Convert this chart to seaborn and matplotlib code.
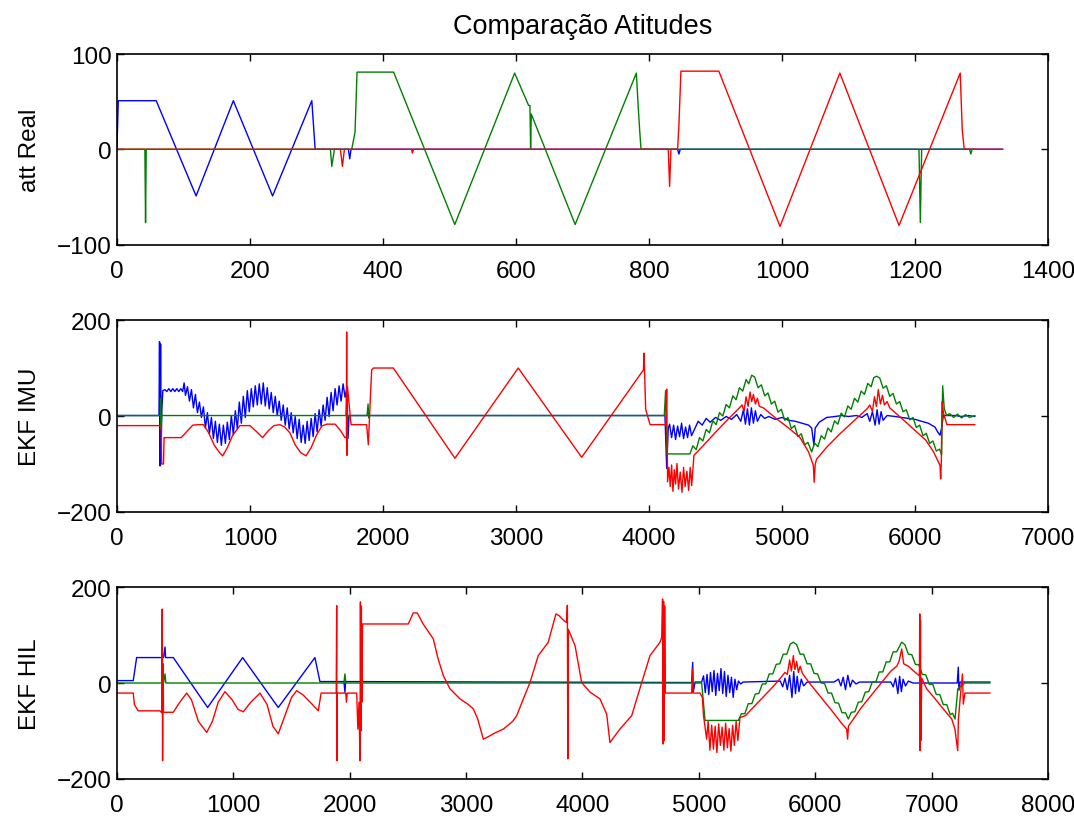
import matplotlib
matplotlib.use('Agg')
import matplotlib.pyplot as plt
import seaborn as sns

# ---------------- att Real (top panel) ----------------
real_blue_t = [0, 2, 59, 119, 175, 234, 293, 298, 348, 350, 352, 843, 845, 847, 1332]
real_blue_v = [0, 51, 51, -49, 51, -49, 51, 0, 0, -10, 0, 0, -5, 0, 0]

real_green_t = [0, 42, 43, 44, 321, 323, 327, 353, 358, 361, 416, 508, 598, 619, 621, 622, 623,
                689, 781, 784, 786, 788, 1206, 1208, 1210, 1282, 1284, 1286, 1290]
real_green_v = [0, 0, -77, 0, 0, -18, 0, 0, 18, 81, 81, -79, 80, 46, 46, 0, 37,
                -79, 80, 42, 20, 0, 0, -77, 0, 0, -5, 0, 0]

real_red_t = [0, 336, 339, 342, 443, 444, 446, 829, 831, 833, 843, 845, 848, 905, 997, 1087,
              1176, 1268, 1271, 1274, 1332]
real_red_v = [0, 0, -18, 0, 0, -4, 0, 0, -39, 0, 0, 25, 82, 82, -81, 80,
              -80, 80, 21, 0, 0]

# ---------------- EKF IMU (middle panel) ----------------
imu_blue_t = [0, 316, 320, 324, 328, 332, 338, 345,
              361, 375, 390, 405, 420, 435, 450, 465, 480, 494, 505, 515, 530, 545, 560, 575, 590, 605,
              620, 635, 650, 665, 680, 695, 710, 725, 740, 755, 770, 785, 800, 815, 830, 845, 860, 875,
              890, 905, 920, 935, 950, 965, 980, 995, 1010, 1025, 1040, 1055, 1070, 1085, 1100, 1115,
              1130, 1145, 1160, 1175, 1190, 1205, 1220, 1235, 1250, 1265, 1280, 1295, 1310, 1325, 1340,
              1355, 1370, 1385, 1400, 1415, 1430, 1445, 1460, 1475, 1490, 1505, 1520, 1535, 1550, 1565,
              1580, 1595, 1610, 1625, 1640, 1655, 1670, 1685, 1700, 1715, 1730, 1737, 1745,
              4120, 4133, 4145, 4155, 4170, 4185, 4200, 4215, 4230, 4245, 4260, 4275, 4290, 4305, 4320,
              4340, 4370, 4400, 4430, 4460, 4500, 4540, 4580, 4620, 4660, 4690, 4710, 4725, 4740, 4755,
              4770, 4785, 4800, 4815, 4840, 4870, 4900, 4950, 5000, 5050, 5100, 5150, 5200, 5223, 5240,
              5250, 5280, 5336, 5400, 5450, 5500, 5560, 5600, 5640, 5660, 5680, 5700, 5715, 5730, 5745,
              5760, 5790, 5850, 5900, 5950, 6000, 6050, 6100, 6150, 6170, 6188, 6200, 6213, 6300, 6350,
              6400, 6451]
imu_blue_v = [1, 1, 155, -104, 150, -66, 15, 53,
              55, 51, 57, 51, 57, 51, 57, 51, 57, 51, 69, 43, 61, 31, 55, 17, 45, 7,
              29, -3, 19, -25, 7, -37, -3, -47, -11, -55, -17, -61, -19, -57, -13, -49, 1, -39,
              11, -27, 29, -15, 41, -3, 53, 9, 57, 19, 63, 23, 67, 25, 69, 21,
              59, 15, 49, 7, 41, 1, 31, -9, 23, -19, 17, -27, 7, -35, -1,
              -47, -7, -55, -19, -57, -11, -51, -5, -43, 5, -33, 13, -21, 23, -9,
              39, -1, 49, 11, 57, 23, 63, 31, 67, 39, 61, -47, 1,
              1, -109, -25, -17, -45, -19, -49, -21, -43, -15, -47, -23, -45, -19, -41,
              -29, -11, -19, -5, -13, -3, -9, -1, -7, 3, -11, 13, -17, 15, -19,
              17, -15, 11, -11, 3, -5, -1, -7, -3, -9, -11, -15, -19, -25, -61,
              -25, -13, -3, -1, 1, -1, 1, -3, 5, -11, 9, -19, 13, -17, 9,
              -9, 1, -1, -3, -5, -7, -11, -15, -23, -33, -40, -25, 1, 1, -1,
              1, -1]

imu_green_t = [0, 326, 328, 331, 336, 345, 1722, 1727, 1732, 1740, 1880, 1888, 1893, 1900,
               4115, 4125, 4135, 4308,
               4330, 4355, 4380, 4405, 4430, 4455, 4480, 4505, 4530, 4555, 4580, 4605, 4630, 4655,
               4680, 4705, 4730, 4750, 4772,
               4795, 4820, 4845, 4870, 4895, 4920, 4945, 4970, 4995, 5020, 5045, 5070, 5095, 5120,
               5145, 5170, 5195, 5223,
               5245, 5270, 5295, 5320, 5345, 5370, 5395, 5420, 5445, 5470, 5495, 5520, 5545, 5570,
               5595, 5620, 5645, 5670, 5690, 5712,
               5735, 5760, 5785, 5810, 5835, 5860, 5885, 5910, 5935, 5960, 5985, 6010, 6035, 6060,
               6085, 6110, 6135, 6160, 6185, 6200,
               6208, 6220, 6238, 6260, 6290, 6320, 6350, 6380, 6410, 6451]
imu_green_v = [1, 1, 36, -27, 3, 1, 1, 50, -6, 1, 1, 25, -4, 1,
               1, 53, -79, -79,
               -62, -70, -45, -52, -28, -35, -10, -18, 7, 0, 24, 17, 42, 34,
               59, 52, 76, 67, 85,
               81, 59, 65, 42, 48, 25, 31, 8, 14, -9, -3, -26, -20, -43,
               -37, -60, -55, -75,
               -56, -64, -41, -48, -25, -33, -10, -17, 6, -2, 21, 14, 37, 29,
               52, 45, 68, 61, 80, 83,
               79, 58, 63, 41, 47, 25, 30, 9, 13, -8, -3, -24, -19, -41,
               -36, -57, -52, -73, -69, -81,
               63, 15, 1, 5, -3, 4, -4, 3, -3, 1]

imu_red_t = [0, 333, 336, 350, 354, 361, 482, 500, 540, 570, 612, 650, 690, 730, 770, 795, 830,
             870, 925, 1000, 1040, 1095, 1140, 1180, 1226, 1260, 1300, 1340, 1380, 1421, 1460, 1500,
             1540, 1576, 1641, 1680, 1714, 1725, 1727, 1729, 1733, 1745, 1760, 1877, 1890, 1905,
             1915, 1928, 2078, 2541, 3017, 3494, 3958, 3963, 3975, 4008, 4128, 4133, 4140,
             4150, 4160, 4170, 4180, 4190, 4200, 4210, 4222, 4235, 4248, 4260, 4272, 4285, 4298,
             4310, 4321, 4338, 4400, 4500, 4600, 4680, 4700, 4715, 4730, 4745, 4760, 4772, 4785,
             4800, 4815, 4830, 4860, 4960, 5050, 5136, 5200, 5236, 5242, 5250, 5260, 5336, 5436,
             5560, 5640, 5660, 5680, 5695, 5710, 5724, 5740, 5755, 5770, 5790, 5810, 5900, 6000,
             6080, 6140, 6188, 6193, 6198, 6203, 6215, 6240, 6451]
imu_red_v = [-20, -20, -100, -100, -45, -45, -45, -40, -28, -19, -18, -18, -35, -60, -76, -83, -66,
             -40, -20, -20, -30, -45, -30, -20, -18, -23, -35, -60, -76, -83, -66, -40,
             -21, -17, -17, -30, -45, -45, 175, -82, 61, 26, -18, -18, -60, 36,
             96, 100, 100, -88, 100, -86, 96, 131, 14, -18, -18, 56, -137,
             -107, -147, -102, -157, -112, -142, -99, -152, -117, -159, -107, -147, -115, -155,
             -107, -145, -82, -64, -34, -5, 17, 23, 10, 40, 20, 50, 30, 45,
             25, 37, 20, 17, -6, -25, -45, -75, -103, -138, -100, -90, -65, -37,
             -5, 15, 23, 10, 40, 20, 55, 25, 43, 23, 30, 17, -5, -30,
             -50, -75, -103, -131, -95, 30, 5, -18, -18]

# ---------------- EKF HIL (bottom panel) ----------------
hil_blue_t = [0, 140, 169, 400, 413, 418, 484, 779, 1080, 1386, 1701, 1744, 1950, 1959, 1965,
              4938, 4947, 4952, 4967, 5024,
              5040, 5055, 5070, 5085, 5100, 5115, 5130, 5145, 5160, 5175, 5190, 5205, 5220, 5235,
              5250, 5265, 5280, 5295, 5310, 5325, 5340, 5360, 5380,
              5700, 5720, 5740, 5760, 5780, 5800, 5815, 5830, 5845, 5860, 5880, 5900, 5930,
              6160, 6200, 6220, 6240, 6260, 6280, 6300, 6320, 6350, 6380,
              6650, 6670, 6690, 6710, 6725, 6740, 6755, 6775, 6800, 6840,
              7220, 7229, 7235, 7245, 7502]
hil_blue_v = [5, 5, 53, 53, 75, 53, 53, -51, 53, -51, 53, 3, 3, -19, 3,
              1, 43, -19, 2, 2,
              15, -20, 18, -24, 22, -18, 26, -26, 20, -16, 30, -22, 24, -28,
              16, -20, 12, -30, 8, -14, 4, -2, 2,
              4, -8, 10, -14, 16, -30, 24, -22, 14, -18, 8, -6, 2,
              2, 8, -6, 12, -14, 16, -8, 6, -2, 2,
              2, -8, 10, -22, 14, -18, 8, -6, 4, 0,
              0, 33, -15, 2, 2]

hil_green_t = [0, 400, 413, 420, 1950, 1959, 1966, 5024, 5053, 5339,
               5365, 5395, 5425, 5455, 5485, 5515, 5545, 5575, 5605, 5635, 5665, 5695, 5725, 5755,
               5785, 5812,
               5840, 5870, 5900, 5930, 5960, 5990, 6020, 6050, 6080, 6110, 6140, 6170, 6200, 6230,
               6260, 6284,
               6310, 6340, 6370, 6400, 6430, 6460, 6490, 6520, 6550, 6580, 6610, 6640, 6670, 6700,
               6742,
               6770, 6800, 6830, 6860, 6890, 6920, 6950, 6980, 7010, 7040, 7070, 7100, 7130, 7160,
               7180, 7201, 7225, 7286, 7502]
hil_green_v = [0, 0, 19, 0, 0, 19, 0, 0, -78, -78,
               -64, -64, -43, -43, -23, -22, -2, -2, 19, 19, 39, 40, 60, 60,
               81, 85,
               80, 60, 60, 40, 40, 20, 19, 0, -1, -21, -21, -41, -42, -62,
               -62, -75,
               -61, -60, -40, -39, -19, -18, 2, 2, 23, 23, 44, 44, 65, 65,
               85,
               80, 60, 59, 39, 38, 18, 17, -3, -3, -24, -24, -45, -45, -66,
               -63, -75, -12, 0, 0]

hil_red_t = [0, 140, 150, 183, 369, 385, 389, 392, 396, 400, 484, 540, 599, 640, 700, 771, 820,
             870, 928, 990, 1040, 1085, 1150, 1229, 1290, 1340, 1386, 1440, 1500, 1544, 1600, 1680,
             1730, 1754, 1884, 1888, 1890, 1893, 1966, 1972, 1978, 2060, 2070, 2080, 2088, 2092,
             2096, 2100, 2104, 2110, 2503, 2546, 2580, 2631, 2718, 2760, 2805, 2861, 2947, 3020,
             3062, 3100, 3148, 3190, 3240, 3320, 3400, 3435, 3492, 3549, 3620, 3706, 3772, 3800,
             3840, 3864, 3870, 3874, 3878, 3936, 3993, 4065, 4150, 4208, 4236, 4322, 4423, 4509,
             4580, 4666, 4681, 4688, 4692, 4697, 4702, 4706, 4712, 4938, 4945, 4950, 5010, 5030,
             5040, 5067, 5080, 5095, 5110, 5125, 5140, 5155, 5170, 5185, 5200, 5215, 5230, 5245,
             5260, 5275, 5290, 5305, 5320, 5335, 5353, 5400, 5510, 5640, 5700, 5740, 5760, 5780,
             5795, 5812, 5825, 5840, 5855, 5870, 5890, 5950, 6050, 6150, 6230, 6270, 6278, 6285,
             6400, 6550, 6650, 6700, 6720, 6743, 6760, 6800, 6860, 6895, 6898, 6901, 6904, 6907,
             6915, 6957, 7030, 7100, 7173, 7200, 7224, 7230, 7255, 7265, 7272, 7286, 7502]
hil_red_v = [-21, -21, -45, -58, -58, -62, 154, -162, 40, -61, -61, -40, -21, -35, -80, -103, -80,
             -40, -18, -35, -55, -60, -40, -21, -45, -90, -106, -70, -30, -16, -25, -45,
             -58, -21, -21, 161, -162, -21, -21, -40, -21, -21, -96, -40, -162, 169,
             -100, 160, -40, 123, 123, 146, 146, 123, 92, 50, 15, -12, -33, -45,
             -54, -75, -117, -112, -105, -96, -80, -68, -33, 1, 57, 85, 144, 140,
             130, 126, 162, -158, 112, 78, 1, -19, -33, -65, -124, -96, -68, 1,
             57, 85, 95, 175, -127, 170, -120, 160, -21, -21, 29, -21, -21, -30,
             -68, -117, -80, -140, -88, -138, -90, -145, -85, -130, -92, -140, -84, -135,
             -95, -142, -88, -130, -80, -120, -72, -68, -40, -7, 10, 22, 18, 48,
             25, 57, 28, 45, 22, 35, 20, 0, -30, -60, -85, -96, -117, -90,
             -50, -5, 25, 35, 45, 71, 40, 35, 22, 15, 144, -141, 130, -120,
             10, -12, -33, -54, -75, -96, -141, -75, -5, 19, -44, -21, -21]

panels = [
    ('att Real', (0, 1400), range(0, 1401, 200), (-100, 100), [-100, 0, 100],
     [(real_blue_t, real_blue_v), (real_green_t, real_green_v), (real_red_t, real_red_v)]),
    ('EKF IMU', (0, 7000), range(0, 7001, 1000), (-200, 200), [-200, 0, 200],
     [(imu_blue_t, imu_blue_v), (imu_green_t, imu_green_v), (imu_red_t, imu_red_v)]),
    ('EKF HIL', (0, 8000), range(0, 8001, 1000), (-200, 200), [-200, 0, 200],
     [(hil_blue_t, hil_blue_v), (hil_green_t, hil_green_v), (hil_red_t, hil_red_v)]),
]
colors = ['#0000ff', '#008000', '#ff0000']

sns.set_style('ticks', {'xtick.direction': 'in', 'ytick.direction': 'in',
                        'xtick.top': True, 'ytick.right': True,
                        'axes.edgecolor': 'black', 'text.color': 'black',
                        'axes.labelcolor': 'black', 'xtick.color': 'black',
                        'ytick.color': 'black'})
plt.rcParams['font.family'] = ['Liberation Sans', 'DejaVu Sans']
plt.rcParams['font.size'] = 17.5

fig = plt.figure(figsize=(10.74, 8.2), dpi=100)
boxes = [[0.1089, 0.7006, 0.8669, 0.2323],
         [0.1089, 0.3744, 0.8669, 0.2341],
         [0.1089, 0.0488, 0.8669, 0.2341]]

for box, (label, xl, xt, yl, yt, series) in zip(boxes, panels):
    ax = fig.add_axes(box)
    for (t, v), c in zip(series, colors):
        sns.lineplot(x=t, y=v, ax=ax, color=c, lw=1.0, sort=False, estimator=None, legend=False)
    ax.set_xlim(*xl)
    ax.set_ylim(*yl)
    ax.set_xticks(list(xt))
    ax.set_yticks(yt)
    ax.tick_params(axis='both', direction='in', top=True, right=True, length=5, width=1,
                   labelsize=17.5, colors='black')
    ax.tick_params(axis='x', pad=11)
    ax.tick_params(axis='y', pad=4)
    for s in ax.spines.values():
        s.set_linewidth(1.2)
        s.set_color('black')
    ax.set_ylabel(label, fontsize=17.5, color='black')
    ax.yaxis.set_label_coords(-0.082, 0.5)
    ax.set_xlabel('')

fig.text(0.5423, 0.967, 'Comparação Atitudes', ha='center', va='center', fontsize=19.5,
         color='black')

fig.savefig('out.png', dpi=100)
